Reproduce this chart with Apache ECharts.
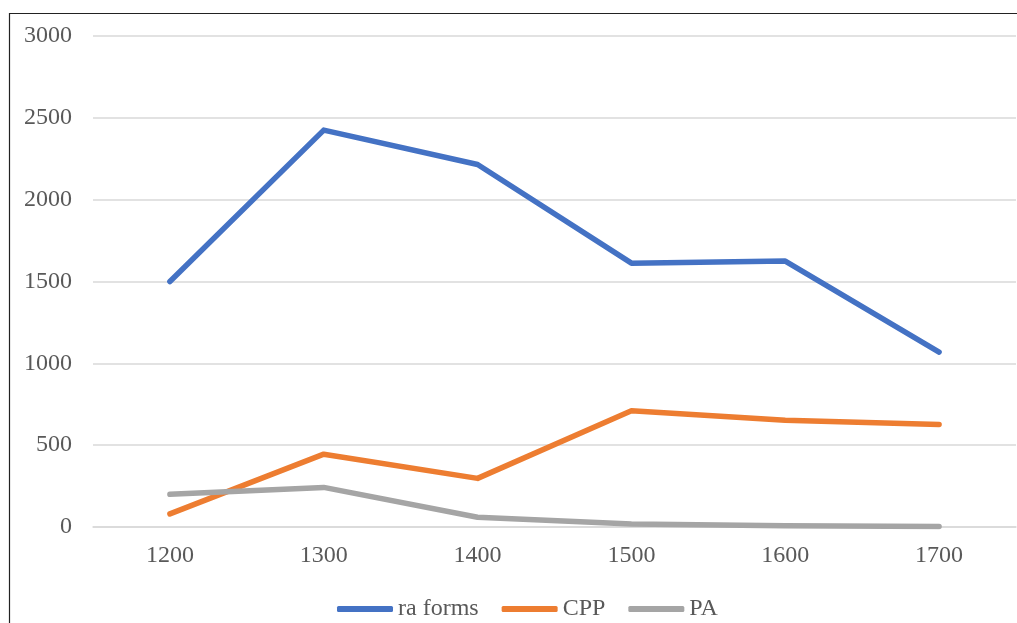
<!DOCTYPE html>
<html>
<head>
<meta charset="utf-8">
<script src="https://cdn.jsdelivr.net/npm/echarts@6/dist/echarts.min.js"></script>
<style>
  html, body { margin: 0; padding: 0; background: #fff; }
  #chart { width: 1017px; height: 623px; }
</style>
</head>
<body>
<div id="chart"></div>
<script>
// Centuries on the x axis
const centuries = ['1200', '1300', '1400', '1500', '1600', '1700'];

// Counts per century
const raForms = [1500, 2425, 2215, 1612, 1625, 1068];
const cpp = [80, 445, 297, 710, 652, 626];
const pa = [200, 242, 60, 19, 8, 3];

const labelColor = '#595959';
const fontFamily = '"Liberation Serif", "DejaVu Serif", serif';

function lineSeries(name, data, color) {
  return {
    name: name,
    type: 'line',
    data: data,
    symbol: 'none',
    lineStyle: { color: color, width: 5.5, cap: 'round', join: 'round' },
    itemStyle: { color: color }
  };
}

const chart = echarts.init(document.getElementById('chart'));
chart.setOption({
  animation: false,
  backgroundColor: '#fff',
  graphic: [{
    type: 'rect',
    shape: { x: 9.5, y: 13.5, width: 1030, height: 640 },
    style: { fill: 'none', stroke: '#222', lineWidth: 1.2 },
    silent: true
  }],
  grid: { left: 93, right: 1, top: 36, bottom: 96, containLabel: false },
  xAxis: {
    type: 'category',
    data: centuries,
    boundaryGap: true,
    axisLine: { show: true, lineStyle: { color: '#d9d9d9', width: 1.5 } },
    axisTick: { show: false },
    axisLabel: { color: labelColor, fontFamily: fontFamily, fontSize: 24, margin: 17 }
  },
  yAxis: {
    type: 'value',
    min: 0,
    max: 3000,
    interval: 500,
    axisLine: { show: false },
    axisTick: { show: false },
    splitLine: { lineStyle: { color: '#d9d9d9', width: 1.5 } },
    axisLabel: {
      color: labelColor, fontFamily: fontFamily, fontSize: 24, margin: 21,
      formatter: function (v) { return String(v); }
    }
  },
  legend: {
    top: 597,
    left: 337,
    padding: 0,
    icon: 'roundRect',
    itemWidth: 56,
    itemHeight: 6,
    itemGap: 23,
    textStyle: { color: labelColor, fontFamily: fontFamily, fontSize: 24, padding: [0, 0, 0, 0] }
  },
  series: [
    lineSeries('ra forms', raForms, '#4472C4'),
    lineSeries('CPP', cpp, '#ED7D31'),
    lineSeries('PA', pa, '#A5A5A5')
  ]
});
</script>
</body>
</html>
